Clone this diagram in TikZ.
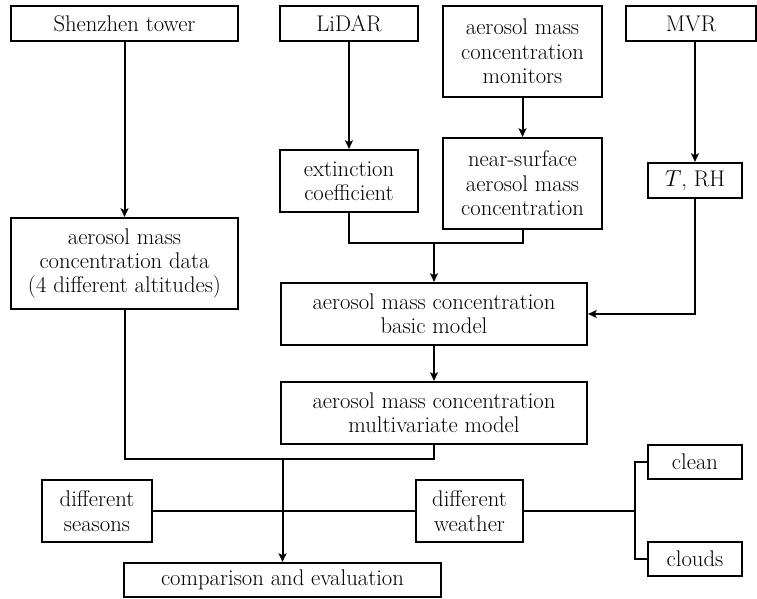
\documentclass[tikz,border=0pt]{standalone}
\usepackage{fontspec}
\usetikzlibrary{arrows.meta}
\tikzset{
  box/.style={draw, line width=1.6pt, inner sep=0pt, align=center,
    font=\fontsize{17}{18.3}\selectfont},
  conn/.style={line width=1.5pt},
  arr/.style={conn, -{Stealth[length=6.5pt,width=6pt,inset=1.5pt]}}
}
\newcommand\mybox[6]{%
  \node[box, minimum width={(#4-#2)*0.75pt}, minimum height={(#5-#3)*0.75pt}]
    (#1) at ({(#2+#4)/2},{(#3+#5)/2}) {#6};}
\begin{document}
\begin{tikzpicture}[x=0.75pt,y=-0.75pt]
\useasboundingbox (0,0) rectangle (757,599);
\mybox{shen}{11}{6}{238}{41}{Shenzhen tower}
\mybox{lidar}{280}{6}{418}{41}{LiDAR}
\mybox{mon}{443}{6}{602}{97}{aerosol mass\\concentration\\monitors}
\mybox{mvr}{626}{6}{756}{41}{MVR}
\mybox{ext}{280}{150}{418}{212}{extinction\\coefficient}
\mybox{near}{443}{138}{602}{229}{near-surface\\aerosol mass\\concentration}
\mybox{trh}{648}{163}{742}{198}{$T$, RH}
\mybox{data}{11}{218}{238}{309}{aerosol mass\\concentration data\\(4 different altitudes)}
\mybox{basic}{281}{283}{587}{345}{aerosol mass concentration\\basic model}
\mybox{multi}{281}{382}{587}{444}{aerosol mass concentration\\multivariate model}
\mybox{seas}{42}{480}{152}{542}{different\\seasons}
\mybox{weath}{416}{480}{523}{542}{different\\weather}
\mybox{clean}{648}{445}{742}{479}{clean}
\mybox{clouds}{648}{542}{742}{576}{clouds}
\mybox{comp}{124}{563}{441}{597}{comparison and evaluation}

\coordinate (m1) at (434,243);
\coordinate (m2) at (282.5,459);
\coordinate (br) at (635,511);

\draw[arr] (shen.south) -- (data.north);
\draw[arr] (lidar.south) -- (ext.north);
\draw[arr] (mon.south) -- (near.north);
\draw[arr] (trh.north |- mvr.south) -- (trh.north);
\draw[conn] (ext.south) |- (m1) -| (near.south);
\draw[arr] (m1) -- (basic.north);
\draw[arr] (trh.south) |- (basic.east);
\draw[arr] (basic.south) -- (multi.north);
\draw[conn] (data.south) |- (multi.south |- m2) -- (multi.south);
\draw[arr] (m2) -- (comp.north);
\draw[conn] (seas.east) -- (weath.west);
\draw[conn] (weath.east) -- (br);
\draw[conn] (clean.west) -- (br |- clean.west) -- (br |- clouds.west) -- (clouds.west);
\end{tikzpicture}
\end{document}
